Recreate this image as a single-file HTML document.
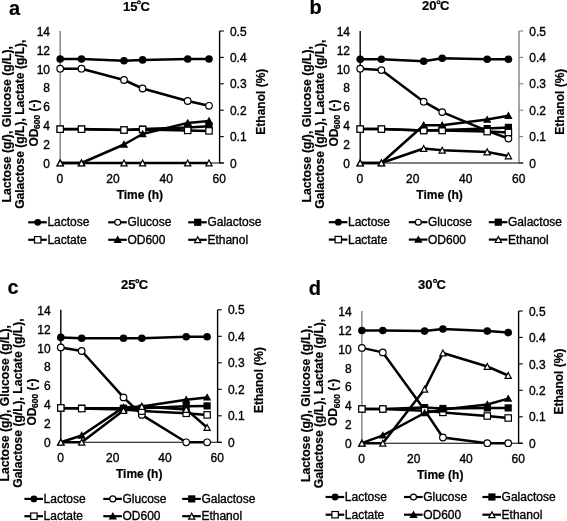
<!DOCTYPE html>
<html><head><meta charset="utf-8"><style>
html,body{margin:0;padding:0;background:#fff;}
body{width:567px;height:521px;overflow:hidden;}
svg{display:block;font-family:"Liberation Sans",sans-serif;will-change:transform;}
.r{font-size:12px;fill:#000;stroke:#000;stroke-width:0.35px;}
.b{font-size:12px;font-weight:bold;fill:#000;stroke:#000;stroke-width:0.2px;}
</style></head><body>
<svg width="567" height="521" viewBox="0 0 567 521">
<rect width="567" height="521" fill="#fff"/>
<text x="9.0" y="14.6" class="b" style="font-size:20px">a</text>
<text x="137.4" y="10.6" class="b" style="font-size:13px" text-anchor="end">15</text>
<circle cx="138.9" cy="2.3" r="1.45" fill="none" stroke="#000" stroke-width="1.2"/>
<text x="140.4" y="10.6" class="b" style="font-size:13px">C</text>
<line x1="60.2" y1="31.0" x2="60.2" y2="163.0" stroke="#808080" stroke-width="1.4"/>
<line x1="219.6" y1="31.0" x2="219.6" y2="163.0" stroke="#000" stroke-width="1.4"/>
<line x1="219.6" y1="163.0" x2="223.8" y2="163.0" stroke="#000" stroke-width="1.1"/>
<line x1="219.6" y1="136.6" x2="223.8" y2="136.6" stroke="#000" stroke-width="1.1"/>
<line x1="219.6" y1="110.2" x2="223.8" y2="110.2" stroke="#000" stroke-width="1.1"/>
<line x1="219.6" y1="83.8" x2="223.8" y2="83.8" stroke="#000" stroke-width="1.1"/>
<line x1="219.6" y1="57.4" x2="223.8" y2="57.4" stroke="#000" stroke-width="1.1"/>
<line x1="219.6" y1="31.0" x2="223.8" y2="31.0" stroke="#000" stroke-width="1.1"/>
<line x1="60.2" y1="163.0" x2="223.8" y2="163.0" stroke="#000" stroke-width="1.1"/>
<text x="50.0" y="167.8" class="r" text-anchor="end">0</text>
<text x="50.0" y="148.9" class="r" text-anchor="end">2</text>
<text x="50.0" y="130.1" class="r" text-anchor="end">4</text>
<text x="50.0" y="111.2" class="r" text-anchor="end">6</text>
<text x="50.0" y="92.4" class="r" text-anchor="end">8</text>
<text x="50.0" y="73.5" class="r" text-anchor="end">10</text>
<text x="50.0" y="54.7" class="r" text-anchor="end">12</text>
<text x="50.0" y="35.8" class="r" text-anchor="end">14</text>
<text x="229.9" y="167.6" class="r">0</text>
<text x="229.9" y="141.2" class="r">0.1</text>
<text x="229.9" y="114.8" class="r">0.2</text>
<text x="229.9" y="88.4" class="r">0.3</text>
<text x="229.9" y="62.0" class="r">0.4</text>
<text x="229.9" y="35.6" class="r">0.5</text>
<text x="59.9" y="182.8" class="r" text-anchor="middle">0</text>
<text x="113.0" y="182.8" class="r" text-anchor="middle">20</text>
<text x="166.2" y="182.8" class="r" text-anchor="middle">40</text>
<text x="219.3" y="182.8" class="r" text-anchor="middle">60</text>
<text x="139.9" y="198.6" class="b" text-anchor="middle">Time (h)</text>
<text transform="translate(10.7,124.3) rotate(-90)" class="b" style="font-size:12.2px" text-anchor="middle">Lactose (g/), Glucose (g/L),</text>
<text transform="translate(23.8,124.2) rotate(-90)" class="b" style="font-size:12.1px" text-anchor="middle">Galactose (g/L), Lactate (g/L),</text>
<text transform="translate(37.6,123.0) rotate(-90)" class="b" text-anchor="middle">OD<tspan font-size="8.5" dx="-0.3" dy="2.3">600</tspan><tspan dy="-2.3"> (-)</tspan></text>
<text transform="translate(264.6,101.7) rotate(-90)" class="b" text-anchor="middle">Ethanol (%)</text>
<polyline points="60.2,59.0 81.5,59.0 124.0,60.8 142.6,59.9 187.7,59.0 209.0,59.0" fill="none" stroke="#000" stroke-width="2.5" stroke-linejoin="round"/>
<circle cx="60.2" cy="59.0" r="3.80" fill="#000"/>
<circle cx="81.5" cy="59.0" r="3.80" fill="#000"/>
<circle cx="124.0" cy="60.8" r="3.80" fill="#000"/>
<circle cx="142.6" cy="59.9" r="3.80" fill="#000"/>
<circle cx="187.7" cy="59.0" r="3.80" fill="#000"/>
<circle cx="209.0" cy="59.0" r="3.80" fill="#000"/>
<polyline points="60.2,68.7 81.5,68.7 124.0,80.0 142.6,88.5 187.7,101.0 209.0,105.8" fill="none" stroke="#000" stroke-width="2.5" stroke-linejoin="round"/>
<circle cx="60.2" cy="68.7" r="3.30" fill="#fff" stroke="#000" stroke-width="1.2"/>
<circle cx="81.5" cy="68.7" r="3.30" fill="#fff" stroke="#000" stroke-width="1.2"/>
<circle cx="124.0" cy="80.0" r="3.30" fill="#fff" stroke="#000" stroke-width="1.2"/>
<circle cx="142.6" cy="88.5" r="3.30" fill="#fff" stroke="#000" stroke-width="1.2"/>
<circle cx="187.7" cy="101.0" r="3.30" fill="#fff" stroke="#000" stroke-width="1.2"/>
<circle cx="209.0" cy="105.8" r="3.30" fill="#fff" stroke="#000" stroke-width="1.2"/>
<polyline points="60.2,129.1 81.5,129.1 124.0,130.0 142.6,129.1 187.7,127.6 209.0,126.2" fill="none" stroke="#000" stroke-width="2.5" stroke-linejoin="round"/>
<rect x="56.6" y="125.5" width="7.2" height="7.2" fill="#000"/>
<rect x="77.9" y="125.5" width="7.2" height="7.2" fill="#000"/>
<rect x="120.4" y="126.4" width="7.2" height="7.2" fill="#000"/>
<rect x="139.0" y="125.5" width="7.2" height="7.2" fill="#000"/>
<rect x="184.1" y="124.0" width="7.2" height="7.2" fill="#000"/>
<rect x="205.4" y="122.6" width="7.2" height="7.2" fill="#000"/>
<polyline points="60.2,129.2 81.5,129.2 124.0,130.0 142.6,129.5 187.7,130.4 209.0,130.9" fill="none" stroke="#000" stroke-width="2.5" stroke-linejoin="round"/>
<rect x="57.0" y="126.0" width="6.4" height="6.4" fill="#fff" stroke="#000" stroke-width="1.2"/>
<rect x="78.3" y="126.0" width="6.4" height="6.4" fill="#fff" stroke="#000" stroke-width="1.2"/>
<rect x="120.8" y="126.8" width="6.4" height="6.4" fill="#fff" stroke="#000" stroke-width="1.2"/>
<rect x="139.4" y="126.3" width="6.4" height="6.4" fill="#fff" stroke="#000" stroke-width="1.2"/>
<rect x="184.5" y="127.2" width="6.4" height="6.4" fill="#fff" stroke="#000" stroke-width="1.2"/>
<rect x="205.8" y="127.7" width="6.4" height="6.4" fill="#fff" stroke="#000" stroke-width="1.2"/>
<polyline points="60.2,163.0 81.5,163.0 124.0,144.5 142.6,134.0 187.7,122.9 209.0,121.0" fill="none" stroke="#000" stroke-width="2.5" stroke-linejoin="round"/>
<path d="M60.2 158.8 L64.4 166.2 L56.0 166.2Z" fill="#000"/>
<path d="M81.5 158.8 L85.7 166.2 L77.3 166.2Z" fill="#000"/>
<path d="M124.0 140.3 L128.2 147.7 L119.8 147.7Z" fill="#000"/>
<path d="M142.6 129.8 L146.8 137.2 L138.4 137.2Z" fill="#000"/>
<path d="M187.7 118.7 L191.9 126.1 L183.5 126.1Z" fill="#000"/>
<path d="M209.0 116.8 L213.2 124.2 L204.8 124.2Z" fill="#000"/>
<polyline points="60.2,163.0 81.5,163.0 124.0,163.0 142.6,163.0 187.7,163.0 209.0,163.0" fill="none" stroke="#000" stroke-width="2.5" stroke-linejoin="round"/>
<path d="M60.2 160.0 L63.3 165.9 L57.1 165.9Z" fill="#fff" stroke="#000" stroke-width="1.2" stroke-linejoin="miter"/>
<path d="M81.5 160.0 L84.6 165.9 L78.4 165.9Z" fill="#fff" stroke="#000" stroke-width="1.2" stroke-linejoin="miter"/>
<path d="M124.0 160.0 L127.1 165.9 L120.9 165.9Z" fill="#fff" stroke="#000" stroke-width="1.2" stroke-linejoin="miter"/>
<path d="M142.6 160.0 L145.7 165.9 L139.5 165.9Z" fill="#fff" stroke="#000" stroke-width="1.2" stroke-linejoin="miter"/>
<path d="M187.7 160.0 L190.8 165.9 L184.6 165.9Z" fill="#fff" stroke="#000" stroke-width="1.2" stroke-linejoin="miter"/>
<path d="M209.0 160.0 L212.1 165.9 L205.9 165.9Z" fill="#fff" stroke="#000" stroke-width="1.2" stroke-linejoin="miter"/>
<line x1="28.2" y1="222.3" x2="46.8" y2="222.3" stroke="#000" stroke-width="2.2"/>
<circle cx="37.7" cy="222.3" r="3.42" fill="#000"/>
<text x="47.4" y="226.2" class="r">Lactose</text>
<line x1="108.2" y1="222.3" x2="126.8" y2="222.3" stroke="#000" stroke-width="2.2"/>
<circle cx="117.7" cy="222.3" r="2.97" fill="#fff" stroke="#000" stroke-width="1.2"/>
<text x="127.4" y="226.2" class="r">Glucose</text>
<line x1="188.2" y1="222.3" x2="206.8" y2="222.3" stroke="#000" stroke-width="2.2"/>
<rect x="194.1" y="218.7" width="7.2" height="7.2" fill="#000"/>
<text x="207.4" y="226.2" class="r">Galactose</text>
<line x1="28.2" y1="239.8" x2="46.8" y2="239.8" stroke="#000" stroke-width="2.2"/>
<rect x="34.5" y="236.6" width="6.4" height="6.4" fill="#fff" stroke="#000" stroke-width="1.2"/>
<text x="47.4" y="243.7" class="r">Lactate</text>
<line x1="108.2" y1="239.8" x2="126.8" y2="239.8" stroke="#000" stroke-width="2.2"/>
<path d="M117.7 235.6 L121.9 243.0 L113.5 243.0Z" fill="#000"/>
<text x="127.4" y="243.7" class="r">OD600</text>
<line x1="188.2" y1="239.8" x2="206.8" y2="239.8" stroke="#000" stroke-width="2.2"/>
<path d="M197.7 236.8 L200.8 242.7 L194.6 242.7Z" fill="#fff" stroke="#000" stroke-width="1.2" stroke-linejoin="miter"/>
<text x="207.4" y="243.7" class="r">Ethanol</text>
<text x="309.6" y="14.3" class="b" style="font-size:20px">b</text>
<text x="436.5" y="10.4" class="b" style="font-size:13px" text-anchor="end">20</text>
<circle cx="438.5" cy="2.2" r="1.45" fill="none" stroke="#000" stroke-width="1.2"/>
<text x="440.0" y="10.4" class="b" style="font-size:13px">C</text>
<line x1="360.2" y1="31.0" x2="360.2" y2="163.0" stroke="#000" stroke-width="1.4"/>
<line x1="519.0" y1="31.0" x2="519.0" y2="163.0" stroke="#808080" stroke-width="1.4"/>
<line x1="519.0" y1="163.0" x2="523.2" y2="163.0" stroke="#808080" stroke-width="1.1"/>
<line x1="519.0" y1="136.6" x2="523.2" y2="136.6" stroke="#808080" stroke-width="1.1"/>
<line x1="519.0" y1="110.2" x2="523.2" y2="110.2" stroke="#808080" stroke-width="1.1"/>
<line x1="519.0" y1="83.8" x2="523.2" y2="83.8" stroke="#808080" stroke-width="1.1"/>
<line x1="519.0" y1="57.4" x2="523.2" y2="57.4" stroke="#808080" stroke-width="1.1"/>
<line x1="519.0" y1="31.0" x2="523.2" y2="31.0" stroke="#808080" stroke-width="1.1"/>
<line x1="360.2" y1="163.0" x2="523.2" y2="163.0" stroke="#000" stroke-width="1.1"/>
<text x="350.0" y="167.8" class="r" text-anchor="end">0</text>
<text x="350.0" y="148.9" class="r" text-anchor="end">2</text>
<text x="350.0" y="130.1" class="r" text-anchor="end">4</text>
<text x="350.0" y="111.2" class="r" text-anchor="end">6</text>
<text x="350.0" y="92.4" class="r" text-anchor="end">8</text>
<text x="350.0" y="73.5" class="r" text-anchor="end">10</text>
<text x="350.0" y="54.7" class="r" text-anchor="end">12</text>
<text x="350.0" y="35.8" class="r" text-anchor="end">14</text>
<text x="529.3" y="167.6" class="r">0</text>
<text x="529.3" y="141.2" class="r">0.1</text>
<text x="529.3" y="114.8" class="r">0.2</text>
<text x="529.3" y="88.4" class="r">0.3</text>
<text x="529.3" y="62.0" class="r">0.4</text>
<text x="529.3" y="35.6" class="r">0.5</text>
<text x="359.9" y="182.8" class="r" text-anchor="middle">0</text>
<text x="412.8" y="182.8" class="r" text-anchor="middle">20</text>
<text x="465.8" y="182.8" class="r" text-anchor="middle">40</text>
<text x="518.7" y="182.8" class="r" text-anchor="middle">60</text>
<text x="439.6" y="198.6" class="b" text-anchor="middle">Time (h)</text>
<text transform="translate(311.1,124.3) rotate(-90)" class="b" style="font-size:12.2px" text-anchor="middle">Lactose (g/), Glucose (g/L),</text>
<text transform="translate(324.2,124.2) rotate(-90)" class="b" style="font-size:12.1px" text-anchor="middle">Galactose (g/L), Lactate (g/L),</text>
<text transform="translate(338.0,123.0) rotate(-90)" class="b" text-anchor="middle">OD<tspan font-size="8.5" dx="-0.3" dy="2.3">600</tspan><tspan dy="-2.3"> (-)</tspan></text>
<text transform="translate(564.0,101.7) rotate(-90)" class="b" text-anchor="middle">Ethanol (%)</text>
<polyline points="360.2,59.3 381.4,59.3 423.7,61.2 442.2,58.3 487.2,59.3 508.4,59.3" fill="none" stroke="#000" stroke-width="2.5" stroke-linejoin="round"/>
<circle cx="360.2" cy="59.3" r="3.80" fill="#000"/>
<circle cx="381.4" cy="59.3" r="3.80" fill="#000"/>
<circle cx="423.7" cy="61.2" r="3.80" fill="#000"/>
<circle cx="442.2" cy="58.3" r="3.80" fill="#000"/>
<circle cx="487.2" cy="59.3" r="3.80" fill="#000"/>
<circle cx="508.4" cy="59.3" r="3.80" fill="#000"/>
<polyline points="360.2,68.7 381.4,70.1 423.7,101.7 442.2,112.1 487.2,130.9 508.4,138.5" fill="none" stroke="#000" stroke-width="2.5" stroke-linejoin="round"/>
<circle cx="360.2" cy="68.7" r="3.30" fill="#fff" stroke="#000" stroke-width="1.2"/>
<circle cx="381.4" cy="70.1" r="3.30" fill="#fff" stroke="#000" stroke-width="1.2"/>
<circle cx="423.7" cy="101.7" r="3.30" fill="#fff" stroke="#000" stroke-width="1.2"/>
<circle cx="442.2" cy="112.1" r="3.30" fill="#fff" stroke="#000" stroke-width="1.2"/>
<circle cx="487.2" cy="130.9" r="3.30" fill="#fff" stroke="#000" stroke-width="1.2"/>
<circle cx="508.4" cy="138.5" r="3.30" fill="#fff" stroke="#000" stroke-width="1.2"/>
<polyline points="360.2,129.1 381.4,129.1 423.7,130.5 442.2,130.0 487.2,128.6 508.4,127.4" fill="none" stroke="#000" stroke-width="2.5" stroke-linejoin="round"/>
<rect x="356.6" y="125.5" width="7.2" height="7.2" fill="#000"/>
<rect x="377.8" y="125.5" width="7.2" height="7.2" fill="#000"/>
<rect x="420.1" y="126.9" width="7.2" height="7.2" fill="#000"/>
<rect x="438.6" y="126.4" width="7.2" height="7.2" fill="#000"/>
<rect x="483.6" y="125.0" width="7.2" height="7.2" fill="#000"/>
<rect x="504.8" y="123.8" width="7.2" height="7.2" fill="#000"/>
<polyline points="360.2,129.1 381.4,129.1 423.7,130.5 442.2,130.5 487.2,131.6 508.4,132.5" fill="none" stroke="#000" stroke-width="2.5" stroke-linejoin="round"/>
<rect x="357.0" y="125.9" width="6.4" height="6.4" fill="#fff" stroke="#000" stroke-width="1.2"/>
<rect x="378.2" y="125.9" width="6.4" height="6.4" fill="#fff" stroke="#000" stroke-width="1.2"/>
<rect x="420.5" y="127.3" width="6.4" height="6.4" fill="#fff" stroke="#000" stroke-width="1.2"/>
<rect x="439.0" y="127.3" width="6.4" height="6.4" fill="#fff" stroke="#000" stroke-width="1.2"/>
<rect x="484.0" y="128.4" width="6.4" height="6.4" fill="#fff" stroke="#000" stroke-width="1.2"/>
<rect x="505.2" y="129.3" width="6.4" height="6.4" fill="#fff" stroke="#000" stroke-width="1.2"/>
<polyline points="360.2,163.0 381.4,163.0 423.7,125.3 442.2,125.3 487.2,119.6 508.4,115.7" fill="none" stroke="#000" stroke-width="2.5" stroke-linejoin="round"/>
<path d="M360.2 158.8 L364.4 166.2 L356.0 166.2Z" fill="#000"/>
<path d="M381.4 158.8 L385.6 166.2 L377.2 166.2Z" fill="#000"/>
<path d="M423.7 121.1 L427.9 128.5 L419.5 128.5Z" fill="#000"/>
<path d="M442.2 121.1 L446.4 128.5 L438.0 128.5Z" fill="#000"/>
<path d="M487.2 115.4 L491.4 122.8 L483.0 122.8Z" fill="#000"/>
<path d="M508.4 111.5 L512.6 118.9 L504.2 118.9Z" fill="#000"/>
<polyline points="360.2,163.0 381.4,163.0 423.7,148.5 442.2,150.3 487.2,151.9 508.4,155.9" fill="none" stroke="#000" stroke-width="2.5" stroke-linejoin="round"/>
<path d="M360.2 160.0 L363.3 165.9 L357.1 165.9Z" fill="#fff" stroke="#000" stroke-width="1.2" stroke-linejoin="miter"/>
<path d="M381.4 160.0 L384.5 165.9 L378.3 165.9Z" fill="#fff" stroke="#000" stroke-width="1.2" stroke-linejoin="miter"/>
<path d="M423.7 145.5 L426.8 151.4 L420.6 151.4Z" fill="#fff" stroke="#000" stroke-width="1.2" stroke-linejoin="miter"/>
<path d="M442.2 147.3 L445.3 153.2 L439.1 153.2Z" fill="#fff" stroke="#000" stroke-width="1.2" stroke-linejoin="miter"/>
<path d="M487.2 148.9 L490.3 154.8 L484.1 154.8Z" fill="#fff" stroke="#000" stroke-width="1.2" stroke-linejoin="miter"/>
<path d="M508.4 152.9 L511.5 158.8 L505.3 158.8Z" fill="#fff" stroke="#000" stroke-width="1.2" stroke-linejoin="miter"/>
<line x1="328.8" y1="222.2" x2="347.4" y2="222.2" stroke="#000" stroke-width="2.2"/>
<circle cx="338.3" cy="222.2" r="3.42" fill="#000"/>
<text x="348.0" y="226.1" class="r">Lactose</text>
<line x1="408.8" y1="222.2" x2="427.4" y2="222.2" stroke="#000" stroke-width="2.2"/>
<circle cx="418.3" cy="222.2" r="2.97" fill="#fff" stroke="#000" stroke-width="1.2"/>
<text x="428.0" y="226.1" class="r">Glucose</text>
<line x1="488.8" y1="222.2" x2="507.4" y2="222.2" stroke="#000" stroke-width="2.2"/>
<rect x="494.7" y="218.6" width="7.2" height="7.2" fill="#000"/>
<text x="508.0" y="226.1" class="r">Galactose</text>
<line x1="328.8" y1="239.6" x2="347.4" y2="239.6" stroke="#000" stroke-width="2.2"/>
<rect x="335.1" y="236.4" width="6.4" height="6.4" fill="#fff" stroke="#000" stroke-width="1.2"/>
<text x="348.0" y="243.5" class="r">Lactate</text>
<line x1="408.8" y1="239.6" x2="427.4" y2="239.6" stroke="#000" stroke-width="2.2"/>
<path d="M418.3 235.4 L422.5 242.8 L414.1 242.8Z" fill="#000"/>
<text x="428.0" y="243.5" class="r">OD600</text>
<line x1="488.8" y1="239.6" x2="507.4" y2="239.6" stroke="#000" stroke-width="2.2"/>
<path d="M498.3 236.6 L501.4 242.5 L495.2 242.5Z" fill="#fff" stroke="#000" stroke-width="1.2" stroke-linejoin="miter"/>
<text x="508.0" y="243.5" class="r">Ethanol</text>
<text x="7.5" y="294.0" class="b" style="font-size:20px">c</text>
<text x="135.5" y="289.1" class="b" style="font-size:13px" text-anchor="end">25</text>
<circle cx="137.25" cy="281.1" r="1.45" fill="none" stroke="#000" stroke-width="1.2"/>
<text x="138.7" y="289.1" class="b" style="font-size:13px">C</text>
<line x1="60.8" y1="309.8" x2="60.8" y2="442.3" stroke="#000" stroke-width="1.4"/>
<line x1="217.6" y1="309.8" x2="217.6" y2="442.3" stroke="#000" stroke-width="1.4"/>
<line x1="217.6" y1="442.3" x2="221.8" y2="442.3" stroke="#000" stroke-width="1.1"/>
<line x1="217.6" y1="415.8" x2="221.8" y2="415.8" stroke="#000" stroke-width="1.1"/>
<line x1="217.6" y1="389.3" x2="221.8" y2="389.3" stroke="#000" stroke-width="1.1"/>
<line x1="217.6" y1="362.8" x2="221.8" y2="362.8" stroke="#000" stroke-width="1.1"/>
<line x1="217.6" y1="336.3" x2="221.8" y2="336.3" stroke="#000" stroke-width="1.1"/>
<line x1="217.6" y1="309.8" x2="221.8" y2="309.8" stroke="#000" stroke-width="1.1"/>
<line x1="60.8" y1="442.3" x2="221.8" y2="442.3" stroke="#000" stroke-width="1.1"/>
<text x="50.6" y="447.1" class="r" text-anchor="end">0</text>
<text x="50.6" y="428.2" class="r" text-anchor="end">2</text>
<text x="50.6" y="409.2" class="r" text-anchor="end">4</text>
<text x="50.6" y="390.3" class="r" text-anchor="end">6</text>
<text x="50.6" y="371.4" class="r" text-anchor="end">8</text>
<text x="50.6" y="352.5" class="r" text-anchor="end">10</text>
<text x="50.6" y="333.5" class="r" text-anchor="end">12</text>
<text x="50.6" y="314.6" class="r" text-anchor="end">14</text>
<text x="227.9" y="446.9" class="r">0</text>
<text x="227.9" y="420.4" class="r">0.1</text>
<text x="227.9" y="393.9" class="r">0.2</text>
<text x="227.9" y="367.4" class="r">0.3</text>
<text x="227.9" y="340.9" class="r">0.4</text>
<text x="227.9" y="314.4" class="r">0.5</text>
<text x="60.5" y="462.1" class="r" text-anchor="middle">0</text>
<text x="112.8" y="462.1" class="r" text-anchor="middle">20</text>
<text x="165.0" y="462.1" class="r" text-anchor="middle">40</text>
<text x="217.3" y="462.1" class="r" text-anchor="middle">60</text>
<text x="139.2" y="477.9" class="b" text-anchor="middle">Time (h)</text>
<text transform="translate(9.1,403.3) rotate(-90)" class="b" style="font-size:12.2px" text-anchor="middle">Lactose (g/), Glucose (g/L),</text>
<text transform="translate(22.2,403.1) rotate(-90)" class="b" style="font-size:12.1px" text-anchor="middle">Galactose (g/L), Lactate (g/L),</text>
<text transform="translate(36.0,402.0) rotate(-90)" class="b" text-anchor="middle">OD<tspan font-size="8.5" dx="-0.3" dy="2.3">600</tspan><tspan dy="-2.3"> (-)</tspan></text>
<text transform="translate(262.5,380.0) rotate(-90)" class="b" text-anchor="middle">Ethanol (%)</text>
<polyline points="60.8,337.4 81.7,338.3 123.5,338.3 141.8,338.3 186.2,336.8 207.1,336.8" fill="none" stroke="#000" stroke-width="2.5" stroke-linejoin="round"/>
<circle cx="60.8" cy="337.4" r="3.80" fill="#000"/>
<circle cx="81.7" cy="338.3" r="3.80" fill="#000"/>
<circle cx="123.5" cy="338.3" r="3.80" fill="#000"/>
<circle cx="141.8" cy="338.3" r="3.80" fill="#000"/>
<circle cx="186.2" cy="336.8" r="3.80" fill="#000"/>
<circle cx="207.1" cy="336.8" r="3.80" fill="#000"/>
<polyline points="60.8,347.4 81.7,351.0 123.5,397.4 141.8,414.9 186.2,442.3 207.1,442.3" fill="none" stroke="#000" stroke-width="2.5" stroke-linejoin="round"/>
<circle cx="60.8" cy="347.4" r="3.30" fill="#fff" stroke="#000" stroke-width="1.2"/>
<circle cx="81.7" cy="351.0" r="3.30" fill="#fff" stroke="#000" stroke-width="1.2"/>
<circle cx="123.5" cy="397.4" r="3.30" fill="#fff" stroke="#000" stroke-width="1.2"/>
<circle cx="141.8" cy="414.9" r="3.30" fill="#fff" stroke="#000" stroke-width="1.2"/>
<circle cx="186.2" cy="442.3" r="3.30" fill="#fff" stroke="#000" stroke-width="1.2"/>
<circle cx="207.1" cy="442.3" r="3.30" fill="#fff" stroke="#000" stroke-width="1.2"/>
<polyline points="60.8,408.2 81.7,408.2 123.5,408.2 141.8,408.2 186.2,406.3 207.1,405.9" fill="none" stroke="#000" stroke-width="2.5" stroke-linejoin="round"/>
<rect x="57.2" y="404.6" width="7.2" height="7.2" fill="#000"/>
<rect x="78.1" y="404.6" width="7.2" height="7.2" fill="#000"/>
<rect x="119.9" y="404.6" width="7.2" height="7.2" fill="#000"/>
<rect x="138.2" y="404.6" width="7.2" height="7.2" fill="#000"/>
<rect x="182.6" y="402.7" width="7.2" height="7.2" fill="#000"/>
<rect x="203.5" y="402.3" width="7.2" height="7.2" fill="#000"/>
<polyline points="60.8,407.9 81.7,408.6 123.5,409.5 141.8,411.1 186.2,413.3 207.1,414.9" fill="none" stroke="#000" stroke-width="2.5" stroke-linejoin="round"/>
<rect x="57.6" y="404.7" width="6.4" height="6.4" fill="#fff" stroke="#000" stroke-width="1.2"/>
<rect x="78.5" y="405.4" width="6.4" height="6.4" fill="#fff" stroke="#000" stroke-width="1.2"/>
<rect x="120.3" y="406.3" width="6.4" height="6.4" fill="#fff" stroke="#000" stroke-width="1.2"/>
<rect x="138.6" y="407.9" width="6.4" height="6.4" fill="#fff" stroke="#000" stroke-width="1.2"/>
<rect x="183.0" y="410.1" width="6.4" height="6.4" fill="#fff" stroke="#000" stroke-width="1.2"/>
<rect x="203.9" y="411.7" width="6.4" height="6.4" fill="#fff" stroke="#000" stroke-width="1.2"/>
<polyline points="60.8,442.3 81.7,435.5 123.5,407.4 141.8,406.4 186.2,399.7 207.1,397.4" fill="none" stroke="#000" stroke-width="2.5" stroke-linejoin="round"/>
<path d="M60.8 438.1 L65.0 445.5 L56.6 445.5Z" fill="#000"/>
<path d="M81.7 431.3 L85.9 438.7 L77.5 438.7Z" fill="#000"/>
<path d="M123.5 403.2 L127.7 410.6 L119.3 410.6Z" fill="#000"/>
<path d="M141.8 402.2 L146.0 409.6 L137.6 409.6Z" fill="#000"/>
<path d="M186.2 395.5 L190.4 402.9 L182.0 402.9Z" fill="#000"/>
<path d="M207.1 393.2 L211.3 400.6 L202.9 400.6Z" fill="#000"/>
<polyline points="60.8,442.3 81.7,442.3 123.5,410.5 141.8,406.5 186.2,409.4 207.1,427.5" fill="none" stroke="#000" stroke-width="2.5" stroke-linejoin="round"/>
<path d="M60.8 439.3 L63.9 445.2 L57.7 445.2Z" fill="#fff" stroke="#000" stroke-width="1.2" stroke-linejoin="miter"/>
<path d="M81.7 439.3 L84.8 445.2 L78.6 445.2Z" fill="#fff" stroke="#000" stroke-width="1.2" stroke-linejoin="miter"/>
<path d="M123.5 407.5 L126.6 413.4 L120.4 413.4Z" fill="#fff" stroke="#000" stroke-width="1.2" stroke-linejoin="miter"/>
<path d="M141.8 403.5 L144.9 409.4 L138.7 409.4Z" fill="#fff" stroke="#000" stroke-width="1.2" stroke-linejoin="miter"/>
<path d="M186.2 406.4 L189.3 412.3 L183.1 412.3Z" fill="#fff" stroke="#000" stroke-width="1.2" stroke-linejoin="miter"/>
<path d="M207.1 424.5 L210.2 430.4 L204.0 430.4Z" fill="#fff" stroke="#000" stroke-width="1.2" stroke-linejoin="miter"/>
<line x1="24.4" y1="498.9" x2="43.0" y2="498.9" stroke="#000" stroke-width="2.2"/>
<circle cx="33.9" cy="498.9" r="3.42" fill="#000"/>
<text x="43.6" y="502.8" class="r">Lactose</text>
<line x1="103.3" y1="498.9" x2="121.9" y2="498.9" stroke="#000" stroke-width="2.2"/>
<circle cx="112.8" cy="498.9" r="2.97" fill="#fff" stroke="#000" stroke-width="1.2"/>
<text x="122.5" y="502.8" class="r">Glucose</text>
<line x1="182.2" y1="498.9" x2="200.8" y2="498.9" stroke="#000" stroke-width="2.2"/>
<rect x="188.1" y="495.3" width="7.2" height="7.2" fill="#000"/>
<text x="201.4" y="502.8" class="r">Galactose</text>
<line x1="24.4" y1="516.2" x2="43.0" y2="516.2" stroke="#000" stroke-width="2.2"/>
<rect x="30.7" y="513.0" width="6.4" height="6.4" fill="#fff" stroke="#000" stroke-width="1.2"/>
<text x="43.6" y="520.1" class="r">Lactate</text>
<line x1="103.3" y1="516.2" x2="121.9" y2="516.2" stroke="#000" stroke-width="2.2"/>
<path d="M112.8 512.0 L117.0 519.4 L108.6 519.4Z" fill="#000"/>
<text x="122.5" y="520.1" class="r">OD600</text>
<line x1="182.2" y1="516.2" x2="200.8" y2="516.2" stroke="#000" stroke-width="2.2"/>
<path d="M191.7 513.2 L194.8 519.1 L188.6 519.1Z" fill="#fff" stroke="#000" stroke-width="1.2" stroke-linejoin="miter"/>
<text x="201.4" y="520.1" class="r">Ethanol</text>
<text x="308.8" y="295.3" class="b" style="font-size:20px">d</text>
<text x="432.5" y="289.2" class="b" style="font-size:13px" text-anchor="end">30</text>
<circle cx="435.05" cy="280.9" r="1.45" fill="none" stroke="#000" stroke-width="1.2"/>
<text x="436.4" y="289.2" class="b" style="font-size:13px">C</text>
<line x1="361.9" y1="311.0" x2="361.9" y2="443.2" stroke="#808080" stroke-width="1.4"/>
<line x1="518.6" y1="311.0" x2="518.6" y2="443.2" stroke="#000" stroke-width="1.4"/>
<line x1="518.6" y1="443.2" x2="522.8" y2="443.2" stroke="#000" stroke-width="1.1"/>
<line x1="518.6" y1="416.8" x2="522.8" y2="416.8" stroke="#000" stroke-width="1.1"/>
<line x1="518.6" y1="390.3" x2="522.8" y2="390.3" stroke="#000" stroke-width="1.1"/>
<line x1="518.6" y1="363.9" x2="522.8" y2="363.9" stroke="#000" stroke-width="1.1"/>
<line x1="518.6" y1="337.4" x2="522.8" y2="337.4" stroke="#000" stroke-width="1.1"/>
<line x1="518.6" y1="311.0" x2="522.8" y2="311.0" stroke="#000" stroke-width="1.1"/>
<line x1="361.9" y1="443.2" x2="522.8" y2="443.2" stroke="#000" stroke-width="1.1"/>
<text x="351.7" y="448.0" class="r" text-anchor="end">0</text>
<text x="351.7" y="429.1" class="r" text-anchor="end">2</text>
<text x="351.7" y="410.2" class="r" text-anchor="end">4</text>
<text x="351.7" y="391.3" class="r" text-anchor="end">6</text>
<text x="351.7" y="372.5" class="r" text-anchor="end">8</text>
<text x="351.7" y="353.6" class="r" text-anchor="end">10</text>
<text x="351.7" y="334.7" class="r" text-anchor="end">12</text>
<text x="351.7" y="315.8" class="r" text-anchor="end">14</text>
<text x="528.9" y="447.8" class="r">0</text>
<text x="528.9" y="421.4" class="r">0.1</text>
<text x="528.9" y="394.9" class="r">0.2</text>
<text x="528.9" y="368.5" class="r">0.3</text>
<text x="528.9" y="342.0" class="r">0.4</text>
<text x="528.9" y="315.6" class="r">0.5</text>
<text x="361.6" y="463.0" class="r" text-anchor="middle">0</text>
<text x="413.8" y="463.0" class="r" text-anchor="middle">20</text>
<text x="466.1" y="463.0" class="r" text-anchor="middle">40</text>
<text x="518.3" y="463.0" class="r" text-anchor="middle">60</text>
<text x="440.2" y="478.8" class="b" text-anchor="middle">Time (h)</text>
<text transform="translate(310.3,403.7) rotate(-90)" class="b" style="font-size:12.2px" text-anchor="middle">Lactose (g/), Glucose (g/L),</text>
<text transform="translate(323.4,403.5) rotate(-90)" class="b" style="font-size:12.1px" text-anchor="middle">Galactose (g/L), Lactate (g/L),</text>
<text transform="translate(337.2,402.4) rotate(-90)" class="b" text-anchor="middle">OD<tspan font-size="8.5" dx="-0.3" dy="2.3">600</tspan><tspan dy="-2.3"> (-)</tspan></text>
<text transform="translate(563.0,381.6) rotate(-90)" class="b" text-anchor="middle">Ethanol (%)</text>
<polyline points="361.9,330.5 382.8,330.5 424.6,331.1 442.9,329.0 487.3,331.1 508.2,332.6" fill="none" stroke="#000" stroke-width="2.5" stroke-linejoin="round"/>
<circle cx="361.9" cy="330.5" r="3.80" fill="#000"/>
<circle cx="382.8" cy="330.5" r="3.80" fill="#000"/>
<circle cx="424.6" cy="331.1" r="3.80" fill="#000"/>
<circle cx="442.9" cy="329.0" r="3.80" fill="#000"/>
<circle cx="487.3" cy="331.1" r="3.80" fill="#000"/>
<circle cx="508.2" cy="332.6" r="3.80" fill="#000"/>
<polyline points="361.9,347.9 382.8,352.4 424.6,410.1 442.9,437.5 487.3,443.2 508.2,443.2" fill="none" stroke="#000" stroke-width="2.5" stroke-linejoin="round"/>
<circle cx="361.9" cy="347.9" r="3.30" fill="#fff" stroke="#000" stroke-width="1.2"/>
<circle cx="382.8" cy="352.4" r="3.30" fill="#fff" stroke="#000" stroke-width="1.2"/>
<circle cx="424.6" cy="410.1" r="3.30" fill="#fff" stroke="#000" stroke-width="1.2"/>
<circle cx="442.9" cy="437.5" r="3.30" fill="#fff" stroke="#000" stroke-width="1.2"/>
<circle cx="487.3" cy="443.2" r="3.30" fill="#fff" stroke="#000" stroke-width="1.2"/>
<circle cx="508.2" cy="443.2" r="3.30" fill="#fff" stroke="#000" stroke-width="1.2"/>
<polyline points="361.9,409.0 382.8,409.0 424.6,407.6 442.9,408.5 487.3,407.9 508.2,407.9" fill="none" stroke="#000" stroke-width="2.5" stroke-linejoin="round"/>
<rect x="358.3" y="405.4" width="7.2" height="7.2" fill="#000"/>
<rect x="379.2" y="405.4" width="7.2" height="7.2" fill="#000"/>
<rect x="421.0" y="404.0" width="7.2" height="7.2" fill="#000"/>
<rect x="439.3" y="404.9" width="7.2" height="7.2" fill="#000"/>
<rect x="483.7" y="404.3" width="7.2" height="7.2" fill="#000"/>
<rect x="504.6" y="404.3" width="7.2" height="7.2" fill="#000"/>
<polyline points="361.9,409.0 382.8,409.0 424.6,410.7 442.9,412.4 487.3,416.0 508.2,418.0" fill="none" stroke="#000" stroke-width="2.5" stroke-linejoin="round"/>
<rect x="358.7" y="405.8" width="6.4" height="6.4" fill="#fff" stroke="#000" stroke-width="1.2"/>
<rect x="379.6" y="405.8" width="6.4" height="6.4" fill="#fff" stroke="#000" stroke-width="1.2"/>
<rect x="421.4" y="407.5" width="6.4" height="6.4" fill="#fff" stroke="#000" stroke-width="1.2"/>
<rect x="439.7" y="409.2" width="6.4" height="6.4" fill="#fff" stroke="#000" stroke-width="1.2"/>
<rect x="484.1" y="412.8" width="6.4" height="6.4" fill="#fff" stroke="#000" stroke-width="1.2"/>
<rect x="505.0" y="414.8" width="6.4" height="6.4" fill="#fff" stroke="#000" stroke-width="1.2"/>
<polyline points="361.9,443.2 382.8,435.4 424.6,413.0 442.9,409.4 487.3,404.5 508.2,398.6" fill="none" stroke="#000" stroke-width="2.5" stroke-linejoin="round"/>
<path d="M361.9 439.0 L366.1 446.4 L357.7 446.4Z" fill="#000"/>
<path d="M382.8 431.2 L387.0 438.6 L378.6 438.6Z" fill="#000"/>
<path d="M424.6 408.8 L428.8 416.2 L420.4 416.2Z" fill="#000"/>
<path d="M442.9 405.2 L447.1 412.6 L438.7 412.6Z" fill="#000"/>
<path d="M487.3 400.3 L491.5 407.7 L483.1 407.7Z" fill="#000"/>
<path d="M508.2 394.4 L512.4 401.8 L504.0 401.8Z" fill="#000"/>
<polyline points="361.9,443.2 382.8,443.2 424.6,389.3 442.9,353.0 487.3,366.5 508.2,375.5" fill="none" stroke="#000" stroke-width="2.5" stroke-linejoin="round"/>
<path d="M361.9 440.2 L365.0 446.1 L358.8 446.1Z" fill="#fff" stroke="#000" stroke-width="1.2" stroke-linejoin="miter"/>
<path d="M382.8 440.2 L385.9 446.1 L379.7 446.1Z" fill="#fff" stroke="#000" stroke-width="1.2" stroke-linejoin="miter"/>
<path d="M424.6 386.3 L427.7 392.2 L421.5 392.2Z" fill="#fff" stroke="#000" stroke-width="1.2" stroke-linejoin="miter"/>
<path d="M442.9 350.0 L446.0 355.9 L439.8 355.9Z" fill="#fff" stroke="#000" stroke-width="1.2" stroke-linejoin="miter"/>
<path d="M487.3 363.5 L490.4 369.4 L484.2 369.4Z" fill="#fff" stroke="#000" stroke-width="1.2" stroke-linejoin="miter"/>
<path d="M508.2 372.5 L511.3 378.4 L505.1 378.4Z" fill="#fff" stroke="#000" stroke-width="1.2" stroke-linejoin="miter"/>
<line x1="325.6" y1="497.0" x2="344.2" y2="497.0" stroke="#000" stroke-width="2.2"/>
<circle cx="335.1" cy="497.0" r="3.42" fill="#000"/>
<text x="344.8" y="500.9" class="r">Lactose</text>
<line x1="404.0" y1="497.0" x2="422.6" y2="497.0" stroke="#000" stroke-width="2.2"/>
<circle cx="413.5" cy="497.0" r="2.97" fill="#fff" stroke="#000" stroke-width="1.2"/>
<text x="423.2" y="500.9" class="r">Glucose</text>
<line x1="482.4" y1="497.0" x2="501.0" y2="497.0" stroke="#000" stroke-width="2.2"/>
<rect x="488.3" y="493.4" width="7.2" height="7.2" fill="#000"/>
<text x="501.6" y="500.9" class="r">Galactose</text>
<line x1="325.6" y1="514.7" x2="344.2" y2="514.7" stroke="#000" stroke-width="2.2"/>
<rect x="331.9" y="511.5" width="6.4" height="6.4" fill="#fff" stroke="#000" stroke-width="1.2"/>
<text x="344.8" y="518.6" class="r">Lactate</text>
<line x1="404.0" y1="514.7" x2="422.6" y2="514.7" stroke="#000" stroke-width="2.2"/>
<path d="M413.5 510.5 L417.7 517.9 L409.3 517.9Z" fill="#000"/>
<text x="423.2" y="518.6" class="r">OD600</text>
<line x1="482.4" y1="514.7" x2="501.0" y2="514.7" stroke="#000" stroke-width="2.2"/>
<path d="M491.9 511.7 L495.0 517.6 L488.8 517.6Z" fill="#fff" stroke="#000" stroke-width="1.2" stroke-linejoin="miter"/>
<text x="501.6" y="518.6" class="r">Ethanol</text>
</svg>
</body></html>
